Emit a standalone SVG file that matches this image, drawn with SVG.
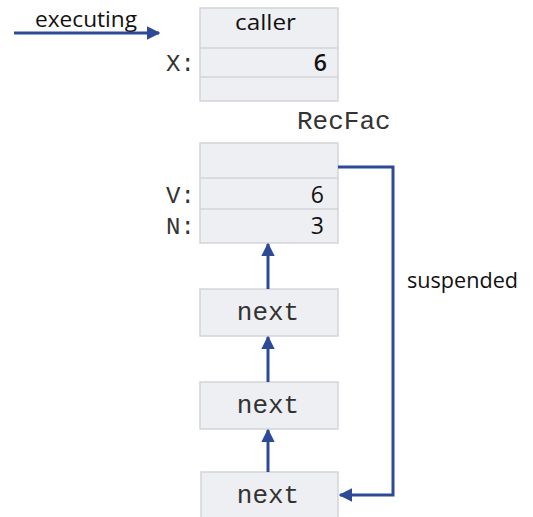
<svg xmlns="http://www.w3.org/2000/svg" width="533" height="517" viewBox="0 0 533 517">
<defs>
<style>
.box{fill:#eeeff2;stroke:#d3d5d9;stroke-width:1.5}
.sep{stroke:#d3d5d9;stroke-width:1.5}
.mono{font-family:"Liberation Mono","Courier New",monospace;fill:#333}
.sans{font-family:"Open Sans","Liberation Sans",sans-serif;fill:#111}
.conn{stroke:#2d4a97;stroke-width:3;fill:none}
</style>
<marker id="ah" viewBox="0 0 10 10" refX="9" refY="5" markerWidth="4.5" markerHeight="4.5" orient="auto" markerUnits="strokeWidth">
<path d="M0,0 L10,5 L0,10 Z" fill="#2d4a97"/>
</marker>
</defs>
<rect width="533" height="517" fill="#ffffff"/>
<g id="caller">
<rect class="box" x="200" y="8" width="138" height="93"/>
<line class="sep" x1="200" y1="48" x2="338" y2="48"/>
<line class="sep" x1="200" y1="77" x2="338" y2="77"/>
<text class="sans" x="235" y="30" font-size="22" textLength="61" lengthAdjust="spacingAndGlyphs">caller</text>
<text class="mono" x="166" y="71" font-size="24">X:</text>
<text class="sans" x="327" y="71" font-size="23" text-anchor="end" font-weight="600">6</text>
</g>
<g id="recfac">
<text class="mono" x="297" y="129" font-size="26">RecFac</text>
<rect class="box" x="200" y="143" width="138" height="100"/>
<line class="sep" x1="200" y1="178" x2="338" y2="178"/>
<line class="sep" x1="200" y1="209" x2="338" y2="209"/>
<text class="mono" x="166" y="203" font-size="24">V:</text>
<text class="mono" x="166" y="234" font-size="24">N:</text>
<text class="sans" x="324" y="203" font-size="23" text-anchor="end">6</text>
<text class="sans" x="324" y="234" font-size="23" text-anchor="end">3</text>
</g>
<g id="next1">
<rect class="box" x="200" y="289" width="138" height="47"/>
<text class="mono" x="268" y="320" font-size="26" text-anchor="middle">next</text>
</g>
<g id="next2">
<rect class="box" x="200" y="382" width="138" height="47"/>
<text class="mono" x="268" y="413" font-size="26" text-anchor="middle">next</text>
</g>
<g id="next3">
<rect class="box" x="201" y="472" width="137" height="50"/>
<text class="mono" x="268" y="503" font-size="26" text-anchor="middle">next</text>
</g>
<g id="labels">
<text class="sans" x="35" y="27" font-size="22" textLength="102" lengthAdjust="spacingAndGlyphs">executing</text>
<text class="sans" x="407" y="288" font-size="22" textLength="111" lengthAdjust="spacingAndGlyphs">suspended</text>
</g>
<g id="connectors">
<line class="conn" x1="14" y1="33" x2="159" y2="33" marker-end="url(#ah)"/>
<line class="conn" x1="268" y1="289" x2="268" y2="244" marker-end="url(#ah)"/>
<line class="conn" x1="268" y1="382" x2="268" y2="337" marker-end="url(#ah)"/>
<line class="conn" x1="268" y1="472" x2="268" y2="430" marker-end="url(#ah)"/>
<polyline class="conn" points="338,167 393,167 393,495 340,495" marker-end="url(#ah)"/>
</g>
</svg>
